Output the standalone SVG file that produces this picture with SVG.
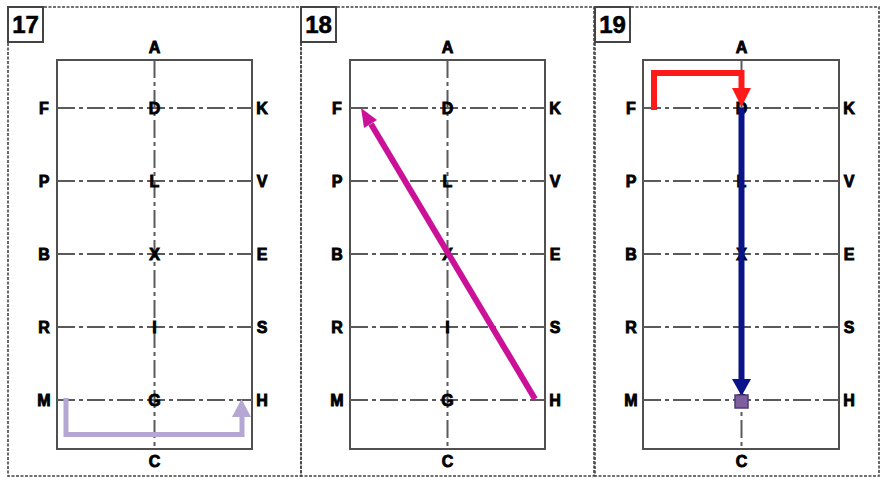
<svg xmlns="http://www.w3.org/2000/svg" width="881" height="478" viewBox="0 0 881 478">
<style>
.frame{fill:none;stroke:#444;stroke-width:1.6;stroke-dasharray:3 1.5}
.box{fill:#fff;stroke:#444;stroke-width:2}
.num{font-family:"Liberation Sans",Arial,sans-serif;font-weight:bold;font-size:24px;fill:#000;stroke:#000;stroke-width:0.6;text-anchor:middle}
.field{fill:none;stroke:#505050;stroke-width:2}
.axis{stroke:#5a5a5a;stroke-width:2;stroke-dasharray:18 4 4 4;fill:none}
.lbl{font-family:"Liberation Sans",Arial,sans-serif;font-weight:bold;font-size:16px;fill:#000;stroke:#000;stroke-width:0.9;text-anchor:middle}
</style>
<rect width="881" height="478" fill="#fff"/>
<g id="panel17">
<rect class="frame" x="8" y="7" width="293" height="469"/>
<rect class="box" x="8" y="7" width="35" height="35"/>
<text class="num" x="25.5" y="33">17</text>
<rect class="field" x="57" y="60" width="195" height="389"/>
<path class="axis" d="M154.5,60V449M57,108H252M57,181H252M57,254H252M57,327H252M57,400H252"/>
<g class="lbl">
<text x="154.5" y="53">A</text><text x="154.5" y="467">C</text>
<text x="44" y="114">F</text><text x="44" y="187">P</text><text x="44" y="260">B</text><text x="44" y="333">R</text><text x="44" y="406">M</text>
<text x="154.5" y="114">D</text><text x="154.5" y="187">L</text><text x="154.5" y="260">X</text><text x="154.5" y="333">I</text><text x="154.5" y="406">G</text>
<text x="262" y="114">K</text><text x="262" y="187">V</text><text x="262" y="260">E</text><text x="262" y="333">S</text><text x="262" y="406">H</text>
</g>
</g>
<g id="panel18" transform="translate(293,0)">
<rect class="frame" x="8" y="7" width="293" height="469"/>
<rect class="box" x="8" y="7" width="35" height="35"/>
<text class="num" x="25.5" y="33">18</text>
<rect class="field" x="57" y="60" width="195" height="389"/>
<path class="axis" d="M154.5,60V449M57,108H252M57,181H252M57,254H252M57,327H252M57,400H252"/>
<g class="lbl">
<text x="154.5" y="53">A</text><text x="154.5" y="467">C</text>
<text x="44" y="114">F</text><text x="44" y="187">P</text><text x="44" y="260">B</text><text x="44" y="333">R</text><text x="44" y="406">M</text>
<text x="154.5" y="114">D</text><text x="154.5" y="187">L</text><text x="154.5" y="260">X</text><text x="154.5" y="333">I</text><text x="154.5" y="406">G</text>
<text x="262" y="114">K</text><text x="262" y="187">V</text><text x="262" y="260">E</text><text x="262" y="333">S</text><text x="262" y="406">H</text>
</g>
</g>
<g id="panel19" transform="translate(587,0)">
<rect class="frame" x="8" y="7" width="284" height="469"/>
<rect class="box" x="8" y="7" width="35" height="35"/>
<text class="num" x="25.5" y="33">19</text>
<rect class="field" x="56" y="60" width="196" height="389"/>
<path class="axis" d="M154.5,60V449M56,108H252M56,181H252M56,254H252M56,327H252M56,400H252"/>
<g class="lbl">
<text x="154.5" y="53">A</text><text x="154.5" y="467">C</text>
<text x="44" y="114">F</text><text x="44" y="187">P</text><text x="44" y="260">B</text><text x="44" y="333">R</text><text x="44" y="406">M</text>
<text x="154.5" y="114">D</text><text x="154.5" y="187">L</text><text x="154.5" y="260">X</text><text x="154.5" y="333">I</text><text x="154.5" y="406">G</text>
<text x="262" y="114">K</text><text x="262" y="187">V</text><text x="262" y="260">E</text><text x="262" y="333">S</text><text x="262" y="406">H</text>
</g>
</g>
<g id="connectors">
<path d="M66,398V434.5H242V415" fill="none" stroke="#b5a6d3" stroke-width="5"/>
<polygon points="232,417 251,417 241.5,399" fill="#b5a6d3"/>
<path d="M535,399L371,124" fill="none" stroke="#cc1199" stroke-width="6"/>
<polygon points="361,108 377,120 364,128" fill="#cc1199"/>
<path d="M741.5,108V382" fill="none" stroke="#0a1488" stroke-width="6"/>
<polygon points="732,379 751,379 741.5,396" fill="#0a1488"/>
<rect x="735" y="395" width="13" height="13" fill="#7d5fa0" stroke="#4f3a78" stroke-width="1.5"/>
<path d="M654,110V73H741.5V90" fill="none" stroke="#ff1a1a" stroke-width="6" stroke-linejoin="miter"/>
<polygon points="732,88 751,88 741.5,107" fill="#ff1a1a"/>
</g>
</svg>
